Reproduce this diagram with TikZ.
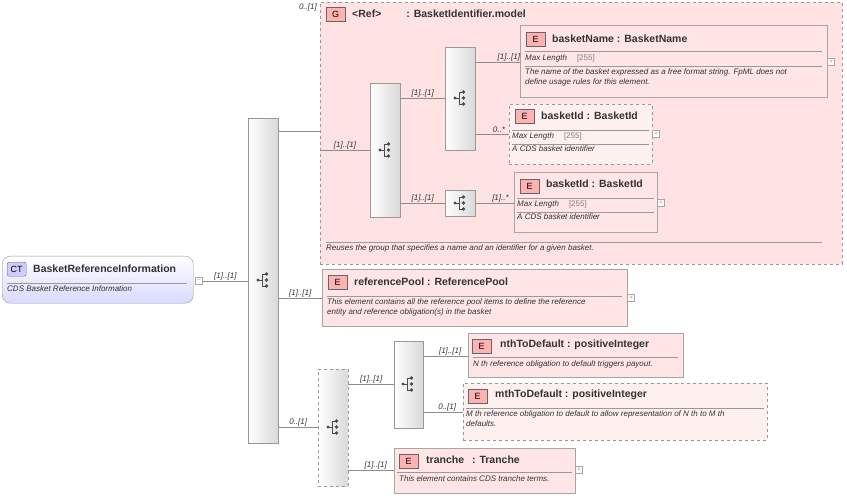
\documentclass[tikz,border=0pt]{standalone}
\usepackage{fontspec}
\setmainfont{Liberation Sans}
\usetikzlibrary{positioning,calc}
\tikzset{>=latex}

\tikzset{
  elem/.style={draw=black!35, fill=red!10, anchor=north west, inner sep=0pt},
  opt/.style={dashed, draw=black!40},
  bar/.style={draw=black!40, left color=white, right color=black!15, anchor=north west, inner sep=0pt},
  badge/.style={draw=black!60, fill=red!30, anchor=north west, minimum width=19pt, minimum height=14pt, inner sep=0pt, font=\fontsize{9}{9}\selectfont},
  ttl/.style={anchor=west, inner sep=0pt, font=\fontsize{10.5}{10.5}\selectfont\bfseries, text=black!80},
  dsc/.style={anchor=north west, inner sep=0pt, align=left, font=\fontsize{8}{10}\selectfont\itshape, text=black!80},
  card/.style={inner sep=1pt, font=\fontsize{8}{8}\selectfont\itshape, text=black!80},
  plus/.style={draw=black!35, fill=white, minimum size=7pt, inner sep=0pt, font=\fontsize{6}{6}\selectfont, text=black!50},
  seqicon/.pic={
    \fill[black!70] (-5,0) circle (1.6);
    \draw[black!70] (-5,0) -- (-1,0) (-1,-6) -- (-1,6) (-1,-6) -- (3,-6) (-1,6) -- (3,6);
    \fill[black!70] (3.5,-6) circle (1.8) (3.5,0) circle (1.8) (3.5,6) circle (1.8);
  },
  conn/.style={draw=black!45}
}
\newcommand\mlen[2]{\node[dsc] at ($(#1.north west)+(#2)$) {Max Length\hspace{10pt}{\upshape\color{black!50}[255]}};}

\begin{document}
\begin{tikzpicture}[x=1pt,y=-1pt]
    \useasboundingbox (0,0) rectangle (847,500);

    % group
    \node[elem, opt, fill=red!11, minimum width=522pt, minimum height=262pt] (grp) at (320,2) {};
    \node[card, anchor=east] (grpc) at (318,7) {0..[1]};
    \node[badge] (gb) at (326,7) {G};
    \node[ttl] (gt) at (352,14) {<Ref>\hspace{25pt}: BasketIdentifier.model};
    \draw[black!40] (326,242) -- (822,242);
    \node[dsc] (gd) at (326,245) {Reuses the group that specifies a name and an identifier for a given basket.};

    % complex type
    \node[draw=black!40, rounded corners=8pt, top color=white, bottom color=blue!15, fill=blue!8, anchor=north west, minimum width=191pt, minimum height=47pt] (ct) at (2,256) {};
    \node[badge, fill=blue!20, rounded corners=2pt] (ctb) at (7,262) {CT};
    \node[ttl] (ctt) at (33,269) {BasketReferenceInformation};
    \draw[black!40] (7,283) -- (187,283);
    \node[dsc] (ctd) at (7,286) {CDS Basket Reference Information};
    \node[plus] (ctm) at (199,281) {--};

    % bars
    \node[bar, minimum width=30pt, minimum height=325pt] (s0) at (248,118) {};
    \pic at (263,280) {seqicon};
    \node[bar, minimum width=30pt, minimum height=134pt] (s1) at (370,83) {};
    \pic at (385,150) {seqicon};
    \node[bar, minimum width=30pt, minimum height=103pt] (s2) at (445,47) {};
    \pic at (460,98) {seqicon};
    \node[bar, minimum width=30pt, minimum height=26pt] (s3) at (445,190) {};
    \pic at (460,203) {seqicon};
    \node[bar, opt, minimum width=30pt, minimum height=117pt] (ch) at (318,369) {};
    \pic at (333,427) {seqicon};
    \node[bar, minimum width=29pt, minimum height=87pt] (s4) at (394,341) {};
    \pic at (408,384) {seqicon};

    % elements
    \node[elem, minimum width=307pt, minimum height=72pt] (bn) at (520,25) {};
    \node[badge] at ($(bn.north west)+(6,7)$) {E};
    \node[ttl] at ($(bn.north west)+(32,14)$) {basketName : BasketName};
    \draw[black!40] ($(bn.north west)+(5,26)$) -- ($(bn.north east)+(-5,26)$);
    \mlen{bn}{5,30}
    \draw[black!40] ($(bn.north west)+(5,41)$) -- ($(bn.north east)+(-5,41)$);
    \node[dsc] at ($(bn.north west)+(5,44)$) {The name of the basket expressed as a free format string. FpML does not\\define usage rules for this element.};
    \node[plus] at (831,62) {+};

    \node[elem, opt, fill=red!6, minimum width=143pt, minimum height=60pt] (bi1) at (509,104) {};
    \node[badge] at ($(bi1.north west)+(6,5)$) {E};
    \node[ttl] at ($(bi1.north west)+(32,12)$) {basketId : BasketId};
    \draw[black!40] ($(bi1.north west)+(3,26)$) -- ($(bi1.north east)+(-3,26)$);
    \mlen{bi1}{3,29}
    \draw[black!40] ($(bi1.north west)+(3,40)$) -- ($(bi1.north east)+(-3,40)$);
    \node[dsc] at ($(bi1.north west)+(3,42)$) {A CDS basket identifier};
    \node[plus] at (656,134) {+};

    \node[elem, minimum width=143pt, minimum height=60pt] (bi2) at (514,172) {};
    \node[badge] at ($(bi2.north west)+(6,7)$) {E};
    \node[ttl] at ($(bi2.north west)+(32,12)$) {basketId : BasketId};
    \draw[black!40] ($(bi2.north west)+(3,26)$) -- ($(bi2.north east)+(-3,26)$);
    \mlen{bi2}{3,29}
    \draw[black!40] ($(bi2.north west)+(3,40)$) -- ($(bi2.north east)+(-3,40)$);
    \node[dsc] at ($(bi2.north west)+(3,42)$) {A CDS basket identifier};
    \node[plus] at (661,203) {+};

    \node[elem, minimum width=305pt, minimum height=57pt] (rp) at (322,269) {};
    \node[badge] at ($(rp.north west)+(6,6)$) {E};
    \node[ttl] at ($(rp.north west)+(32,13)$) {referencePool : ReferencePool};
    \draw[black!40] ($(rp.north west)+(5,27)$) -- ($(rp.north east)+(-5,27)$);
    \node[dsc] at ($(rp.north west)+(5,30)$) {This element contains all the reference pool items to define the reference\\entity and reference obligation(s) in the basket};
    \node[plus] at (631,298) {+};

    \node[elem, minimum width=215pt, minimum height=44pt] (nth) at (468,333) {};
    \node[badge] at ($(nth.north west)+(4,6)$) {E};
    \node[ttl] at ($(nth.north west)+(32,12)$) {nthToDefault : positiveInteger};
    \draw[black!40] ($(nth.north west)+(5,24)$) -- ($(nth.north east)+(-5,24)$);
    \node[dsc] at ($(nth.north west)+(5,28)$) {N th reference obligation to default triggers payout.};

    \node[elem, opt, fill=red!6, minimum width=304pt, minimum height=57pt] (mth) at (463,383) {};
    \node[badge] at ($(mth.north west)+(5,6)$) {E};
    \node[ttl] at ($(mth.north west)+(32,12)$) {mthToDefault : positiveInteger};
    \draw[black!40] ($(mth.north west)+(3,25)$) -- ($(mth.north east)+(-3,25)$);
    \node[dsc] at ($(mth.north west)+(3,28)$) {M th reference obligation to default to allow representation of N th to M th\\defaults.};

    \node[elem, minimum width=181pt, minimum height=45pt] (tr) at (394,448) {};
    \node[badge] at ($(tr.north west)+(5,6)$) {E};
    \node[ttl] at ($(tr.north west)+(32,12)$) {tranche\hspace{8pt}: Tranche};
    \draw[black!40] ($(tr.north west)+(3,24)$) -- ($(tr.north east)+(-3,24)$);
    \node[dsc] at ($(tr.north west)+(5,28)$) {This element contains CDS tranche terms.};
    \node[plus] at (579,470) {+};

    % connectors
    \draw[conn] (ctm.east) -- (s0.west |- ctm) node[card, midway, above] {[1]..[1]};
    \draw[conn] (s0.east |- 0,131) -- (grp.west |- 0,131);
    \draw[conn] (s0.east |- 0,298) -- (rp.west |- 0,298) node[card, midway, above] {[1]..[1]};
    \draw[conn] (s0.east |- 0,427) -- (ch.west |- 0,427) node[card, midway, above] {0..[1]};
    \draw[conn] (grp.west |- 0,150) -- (s1.west |- 0,150) node[card, midway, above] {[1]..[1]};
    \draw[conn] (s1.east |- 0,98) -- (s2.west |- 0,98) node[card, midway, above] {[1]..[1]};
    \draw[conn] (s1.east |- 0,203) -- (s3.west |- 0,203) node[card, midway, above] {[1]..[1]};
    \draw[conn] (s2.east |- 0,62) -- (bn.west |- 0,62) node[card, pos=0.75, above] {[1]..[1]};
    \draw[conn] (s2.east |- 0,134) -- (bi1.west |- 0,134) node[card, pos=0.7, above] {0..*};
    \draw[conn] (s3.east |- 0,203) -- (bi2.west |- 0,203) node[card, pos=0.65, above] {[1]..*};
    \draw[conn] (ch.east |- 0,384) -- (s4.west |- 0,384) node[card, midway, above] {[1]..[1]};
    \draw[conn] (ch.east |- 0,470) -- (tr.west |- 0,470) node[card, pos=0.6, above] {[1]..[1]};
    \draw[conn] (s4.east |- 0,356) -- (nth.west |- 0,356) node[card, pos=0.6, above] {[1]..[1]};
    \draw[conn] (s4.east |- 0,412) -- (mth.west |- 0,412) node[card, pos=0.6, above] {0..[1]};
\end{tikzpicture}
\end{document}
